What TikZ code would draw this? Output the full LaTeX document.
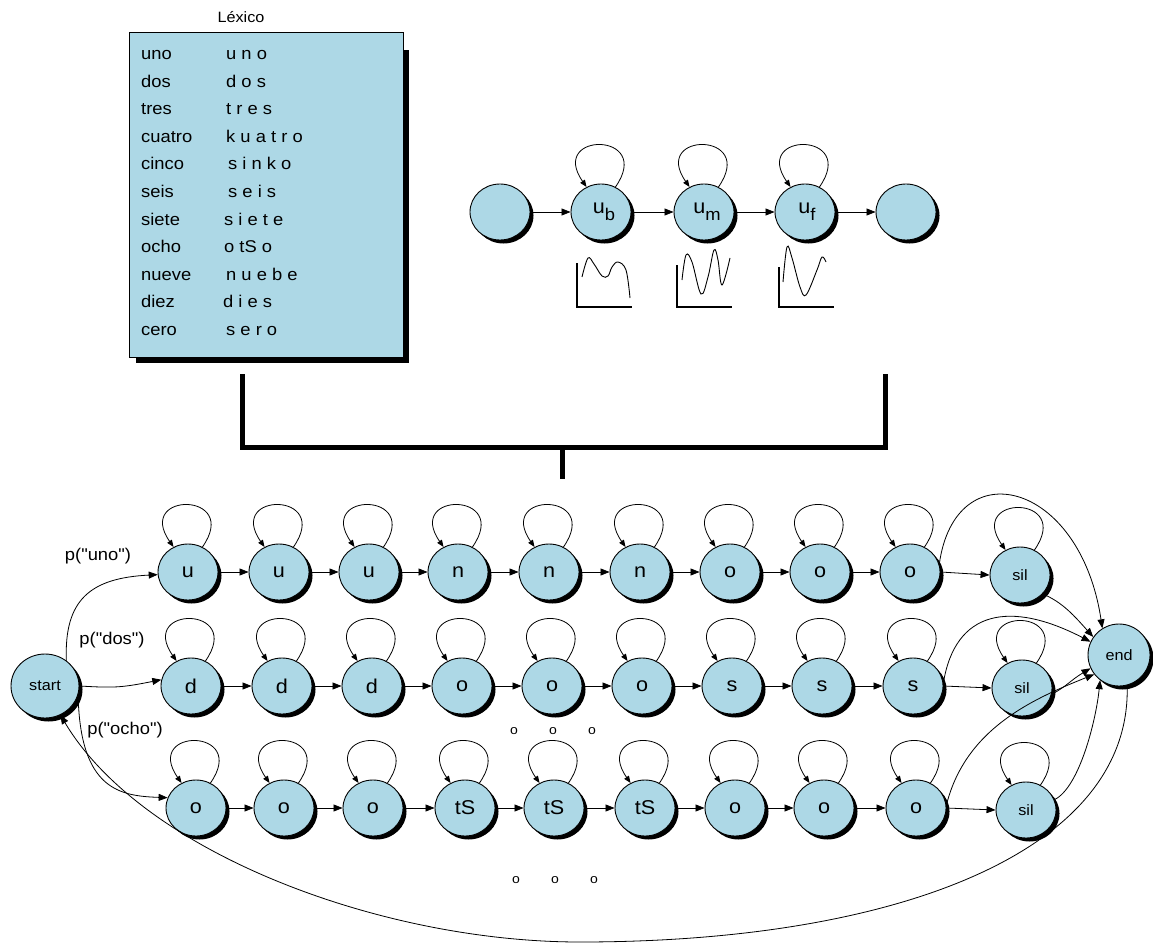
\documentclass[tikz,border=0pt]{standalone}
\usepackage{fontspec}
\setmainfont{Liberation Sans}[FakeStretch=1.08]
\newfontfamily\plainfont{Liberation Sans}[FakeStretch=1.08]
\usetikzlibrary{arrows.meta,shapes.geometric,shadows}
\definecolor{nodeblue}{RGB}{173,216,230}
\tikzset{
  x=1pt, y=1pt,
  st/.style={ellipse, draw, line width=0.9pt, fill=nodeblue, minimum width=60pt, minimum height=56pt, inner sep=0pt,
    font=\fontsize{20}{24}\selectfont,
    general shadow={fill=black, shadow xshift=3.5pt, shadow yshift=-3.5pt}},
  smallst/.style={st, font=\fontsize{15}{18}\selectfont},
  arr/.style={line width=0.8pt, -{Triangle[length=9pt,width=7pt]}},
  looparr/.style={line width=0.8pt, -{Triangle[length=7pt,width=5.5pt]}},
  lab/.style={font=\plainfont\fontsize{17}{20}\selectfont, inner sep=0pt},
  lexw/.style={font=\fontsize{17}{20}\selectfont, inner sep=0pt, anchor=base west},
  dots/.style={font=\fontsize{13}{15}\selectfont, inner sep=0pt},
  axes/.style={line width=1.8pt},
  curve/.style={line width=0.9pt},
  bracket/.style={line width=5pt},
}
\begin{document}
\begin{tikzpicture}
\useasboundingbox (0,0) rectangle (1153,-944);

% ---------- Lexicon ----------
\node[font=\fontsize{15}{18}\selectfont, inner sep=0pt] (lextitle) at (241,-17) {Léxico};
\fill[black] (136,-50) rectangle (409,-363);
\draw[line width=0.9pt, fill=nodeblue] (129,-32) rectangle (403,-357);
\foreach \w/\p/\px [count=\i] in {uno/u n o/226, dos/d o s/226, tres/t r e s/226, cuatro/k u a t r o/226,
  cinco/s i n k o/228, seis/s e i s/228, siete/s i e t e/224, ocho/o tS o/224, nueve/n u e b e/226,
  diez/d i e s/223, cero/s e r o/226}{
  \pgfmathsetmacro\yy{-60-27.5*(\i-1)}
  \node[lexw] (w\i) at (141,\yy) {\w};
  \node[lexw] (p\i) at (\px,\yy) {\p};
}

% ---------- Top HMM ----------
\node[st] (h1) at (500,-212) {};
\node[st] (h2) at (601,-212) {\hspace{6pt}u\raisebox{-7pt}{\fontsize{17}{17}\selectfont b}};
\node[st] (h3) at (704,-212) {\hspace{6pt}u\raisebox{-7pt}{\fontsize{17}{17}\selectfont m}};
\node[st] (h4) at (805,-212) {\hspace{4pt}u\raisebox{-7pt}{\fontsize{17}{17}\selectfont f}};
\node[st] (h5) at (906,-212) {};
\foreach \a/\b in {h1/h2,h2/h3,h3/h4,h4/h5}
  \draw[arr, shorten <=3pt] (\a.east) -- (\b.west);
\foreach \a in {h2,h3,h4}
  \draw[looparr] (\a.60) .. controls +(55:68) and +(125:68) .. (\a.120);

% emission plots
\draw[axes] (577,-263) -- (577,-307) -- (632,-307);
\draw[curve] plot[smooth, tension=0.6] coordinates {(582,-277) (588,-258) (594,-264) (602,-276) (608,-276) (612,-267) (618,-262) (626,-270) (630,-298)};
\draw[axes] (677,-265) -- (677,-307) -- (732,-307);
\draw[curve] plot[smooth, tension=0.6] coordinates {(682,-280) (686,-255) (692,-262) (701,-294) (708,-277) (714,-250) (718,-260) (722,-285) (730,-258)};
\draw[axes] (779,-267) -- (779,-307) -- (834,-307);
\draw[curve] plot[smooth, tension=0.6] coordinates {(783,-282) (787,-247) (792,-258) (800,-287) (806,-295) (817,-270) (822,-257) (826,-262)};

% ---------- Bracket ----------
\draw[bracket] (242,-374) -- (242,-447) -- (885,-447) -- (885,-374);
\draw[bracket] (562,-447) -- (562,-479);

% ---------- Word network ----------
\node[smallst, minimum width=68pt, minimum height=64pt] (start) at (45,-686) {start};
\node[smallst, minimum width=62pt, minimum height=62pt] (end) at (1119,-655) {end};

\foreach \x/\l [count=\i] in {188/u,279/u,369/u,458/n,549/n,640/n,730/o,820/o,910/o}
  \node[st] (r1c\i) at (\x,-572) {\l};
\foreach \x/\l [count=\i] in {191/d,282/d,372/d,462/o,552/o,642/o,732/s,822/s,913/s}
  \node[st] (r2c\i) at (\x,-686) {\l};
\foreach \x/\l [count=\i] in {196/o,284/o,373/o,465/tS,554/tS,645/tS,735/o,824/o,916/o}
  \node[st] (r3c\i) at (\x,-808) {\l};
\node[smallst] (s1) at (1020,-575) {sil};
\node[smallst] (s2) at (1022,-688) {sil};
\node[smallst] (s3) at (1026,-810) {sil};

\foreach \r in {1,2,3}{
  \foreach \i in {1,...,8}{
    \pgfmathtruncatemacro\j{\i+1}
    \draw[arr, shorten <=3pt] (r\r c\i.east) -- (r\r c\j.west);
  }
  \draw[arr, shorten <=3pt] (r\r c9.east) -- (s\r.west);
  \foreach \i in {1,...,9}
    \draw[looparr] (r\r c\i.60) .. controls +(55:68) and +(125:68) .. (r\r c\i.120);
  \draw[looparr] (s\r.60) .. controls +(55:68) and +(125:68) .. (s\r.120);
}

% entry arcs
\draw[arr] (start.50) .. controls (64,-600) and (90,-578) .. (r1c1.185);
\draw[arr] (start.east) .. controls +(35,-2) and +(-40,-8) .. (r2c1.168);
\draw[arr] (start.-15) .. controls (80,-790) and (120,-796) .. (r3c1.160);
\node[lab] (lp1) at (98,-556) {p("uno")};
\node[lab] (lp2) at (112,-640) {p("dos")};
\node[lab] (lp3) at (125,-730) {p("ocho")};

% exit arcs
\draw[arr] (r1c9.15) .. controls (955,-450) and (1080,-480) .. (end.122);
\draw[arr] (s1.-40) .. controls +(20,-8) and +(-18,20) .. (end.145);
\draw[arr] (r2c9.5) .. controls (955,-610) and (1010,-600) .. (end.155);
\draw[arr] (s2.-12) .. controls +(15,8) and +(-20,-12) .. (end.205);
\draw[arr] (r3c9.5) .. controls (965,-730) and (1030,-700) .. (end.218);
\draw[arr] (s3.20) .. controls +(25,12) and +(-4,-40) .. (end.233);

% return arc
\draw[arr] (end.-75) .. controls (1132,-850) and (900,-942) .. (580,-942)
  .. controls (380,-942) and (142,-852) .. (start.-62);

% dots
\node[dots] (d1) at (514,-731) {o};
\node[dots] (d2) at (553,-731) {o};
\node[dots] (d3) at (592,-731) {o};
\node[dots] (d4) at (516,-880) {o};
\node[dots] (d5) at (555,-880) {o};
\node[dots] (d6) at (594,-880) {o};
\end{tikzpicture}
\end{document}
